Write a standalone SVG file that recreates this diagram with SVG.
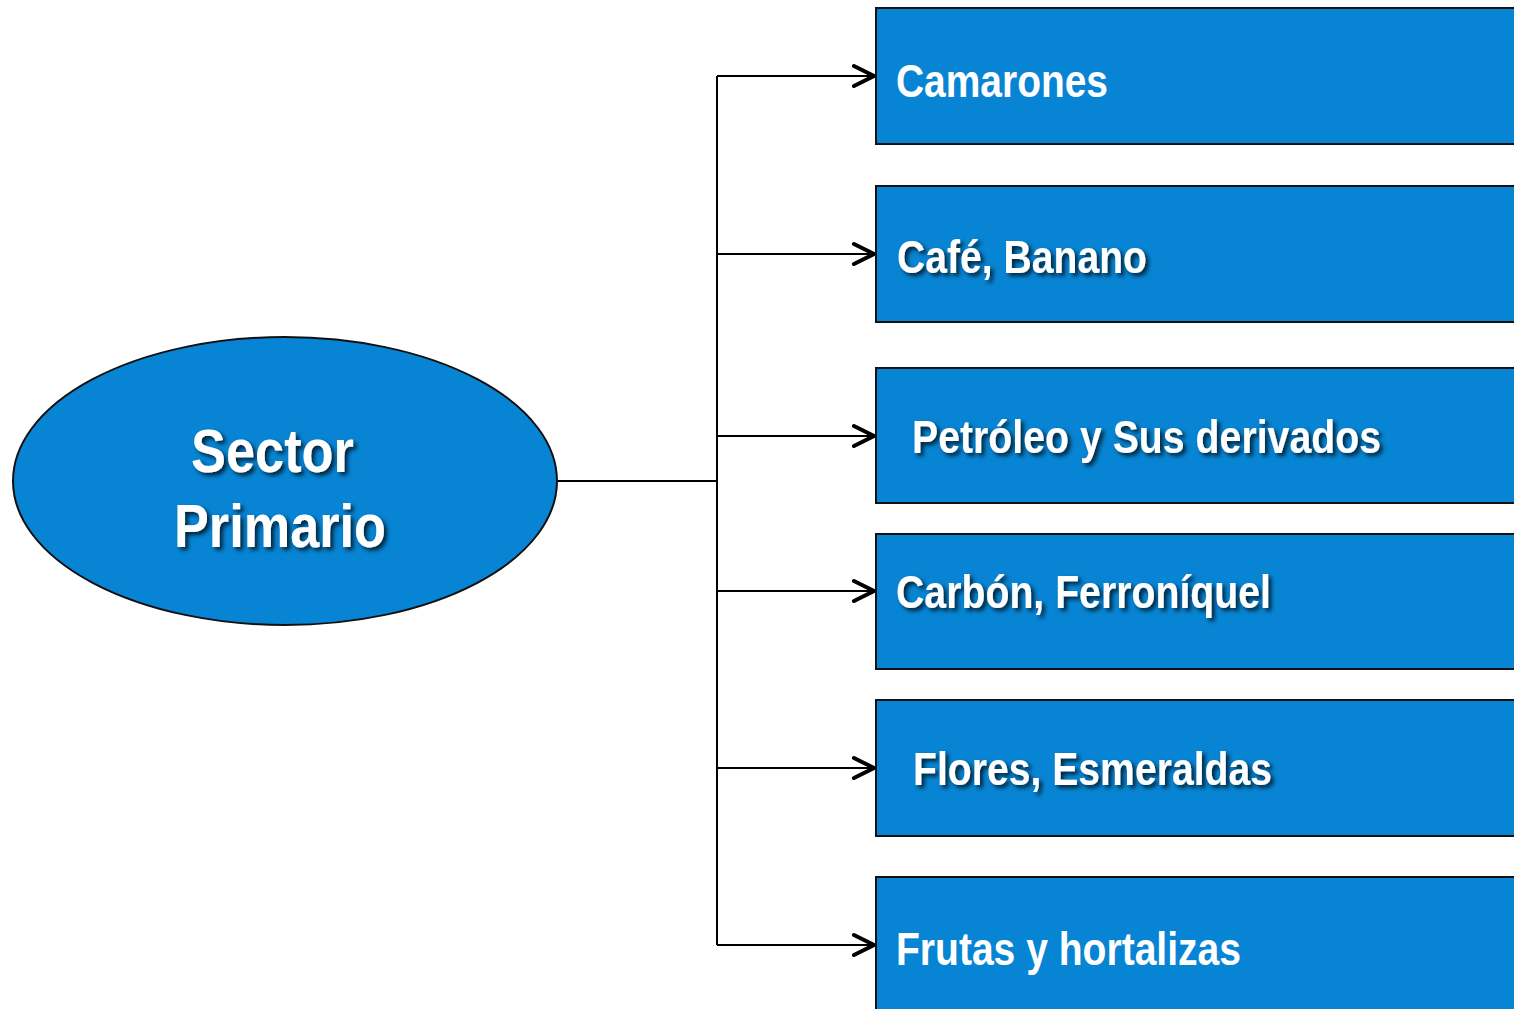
<svg xmlns="http://www.w3.org/2000/svg" width="1514" height="1009" viewBox="0 0 1514 1009">
<defs>
<style>
.box{fill:#0784D3;stroke:#111;stroke-width:2}
.lbl{font-family:"Liberation Sans Narrow","Arial Narrow","Liberation Sans",sans-serif;font-weight:bold;font-size:47px;fill:#fff}
.big{font-size:62px}
.sh{filter:url(#sh)}
.conn{fill:none;stroke:#000;stroke-width:2}
</style>
<filter id="sh" x="-10%" y="-30%" width="120%" height="160%">
<feDropShadow dx="3" dy="3" stdDeviation="2" flood-color="#000" flood-opacity="0.75"/>
</filter>
<marker id="ar" viewBox="0 0 26 26" refX="24" refY="13" markerWidth="26" markerHeight="26" markerUnits="userSpaceOnUse" orient="auto">
<path d="M3,3 L23,13 L3,23" fill="none" stroke="#000" stroke-width="4" stroke-linecap="round" stroke-linejoin="miter"/>
</marker>
</defs>
<rect width="1514" height="1009" fill="#fff"/>
<g id="connectors">
<path class="conn" d="M558,481 H717"/>
<path class="conn" d="M717,76 V945"/>
<path class="conn" d="M717,76 H875" marker-end="url(#ar)"/>
<path class="conn" d="M717,254 H875" marker-end="url(#ar)"/>
<path class="conn" d="M717,436 H875" marker-end="url(#ar)"/>
<path class="conn" d="M717,591 H875" marker-end="url(#ar)"/>
<path class="conn" d="M717,768 H875" marker-end="url(#ar)"/>
<path class="conn" d="M717,945 H875" marker-end="url(#ar)"/>
</g>
<g id="sector-primario">
<ellipse cx="285" cy="481" rx="272" ry="144" fill="#0784D3" stroke="#111" stroke-width="2"/>
<text class="lbl big sh" x="191" y="472" textLength="163" lengthAdjust="spacingAndGlyphs">Sector</text>
<text class="lbl big sh" x="174" y="547" textLength="212" lengthAdjust="spacingAndGlyphs">Primario</text>
</g>
<g id="camarones">
<rect class="box" x="876" y="8" width="650" height="136"/>
<text class="lbl" x="896" y="97" textLength="212" lengthAdjust="spacingAndGlyphs">Camarones</text>
</g>
<g id="cafe-banano">
<rect class="box" x="876" y="186" width="650" height="136"/>
<text class="lbl sh" x="897" y="273" textLength="250" lengthAdjust="spacingAndGlyphs">Café, Banano</text>
</g>
<g id="petroleo">
<rect class="box" x="876" y="368" width="650" height="135"/>
<text class="lbl sh" x="912" y="453" textLength="469" lengthAdjust="spacingAndGlyphs">Petróleo y Sus derivados</text>
</g>
<g id="carbon">
<rect class="box" x="876" y="534" width="650" height="135"/>
<text class="lbl sh" x="896" y="608" textLength="375" lengthAdjust="spacingAndGlyphs">Carbón, Ferroníquel</text>
</g>
<g id="flores">
<rect class="box" x="876" y="700" width="650" height="136"/>
<text class="lbl sh" x="913" y="785" textLength="359" lengthAdjust="spacingAndGlyphs">Flores, Esmeraldas</text>
</g>
<g id="frutas">
<rect class="box" x="876" y="877" width="650" height="150"/>
<text class="lbl" x="896" y="965" textLength="345" lengthAdjust="spacingAndGlyphs">Frutas y hortalizas</text>
</g>
</svg>
